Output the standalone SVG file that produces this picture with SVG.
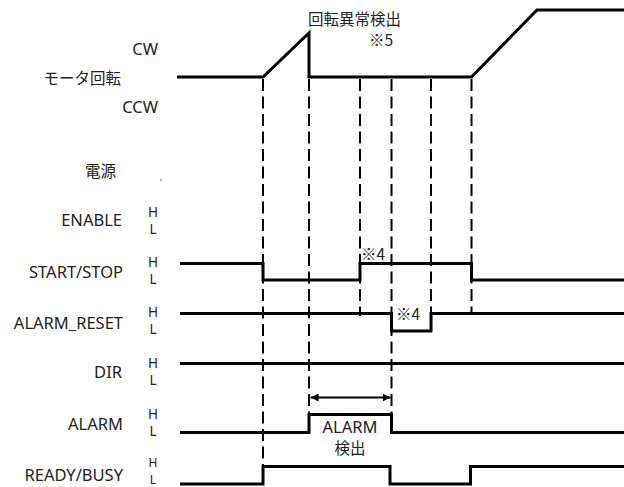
<svg xmlns="http://www.w3.org/2000/svg" width="624" height="487" viewBox="0 0 624 487">
<defs>
<style>
.t{font-family:"Noto Sans","Noto Sans CJK JP",sans-serif;font-size:16.5px;fill:#222}
.j{font-family:"Noto Sans CJK JP","Noto Sans",sans-serif;font-size:15.5px;fill:#222}
.hl{font-family:"Noto Sans","Noto Sans CJK JP",sans-serif;font-size:13.5px;fill:#222;text-anchor:middle}
.hs{font-size:12px}
.r{text-anchor:end}
.m{text-anchor:middle}
.sig{fill:none;stroke:#000;stroke-width:3;stroke-linejoin:miter}
.dash{fill:none;stroke:#000;stroke-width:2;stroke-dasharray:12 5.5}
</style>
<marker id="ah" viewBox="0 0 10 10" refX="10" refY="5" markerWidth="8" markerHeight="8" markerUnits="userSpaceOnUse" orient="auto-start-reverse">
<path d="M0,0 L10,5 L0,10 z" fill="#000"/>
</marker>
</defs>
<rect width="624" height="487" fill="#fff"/>

<g id="motor">
<text class="t r" x="158" y="55">CW</text>
<text class="j r" x="121" y="84">モータ回転</text>
<text class="t r" x="158" y="113">CCW</text>
<text class="j" x="308" y="25">回転異常検出</text>
<text class="j" x="369" y="46">※5</text>
<path class="sig" d="M177,77 H263 L309,33 V77 H471.5 L537,10 H624"/>
</g>

<g id="power">
<text class="j r" x="116" y="177">電源</text>
<circle cx="161" cy="180" r="0.8" fill="#666"/>
</g>

<g id="enable">
<text class="t r" x="122" y="226">ENABLE</text>
<text class="hl" x="153" y="216.5">H</text>
<text class="hl" x="153" y="234">L</text>
</g>

<g id="start-stop">
<text class="t r" x="123" y="278">START/STOP</text>
<text class="hl" x="153" y="266.5">H</text>
<text class="hl" x="153" y="284">L</text>
<text class="j" x="361" y="260">※4</text>
<path class="sig" d="M180,263.5 H263 V280 H360 V263.5 H471.5 V280 H624"/>
</g>

<g id="alarm-reset">
<text class="t r" x="123" y="329">ALARM_RESET</text>
<text class="hl" x="153" y="316.5">H</text>
<text class="hl" x="153" y="334">L</text>
<text class="j" x="396" y="320">※4</text>
<path class="sig" d="M180,313.5 H391.5 V331 H431 V313.5 H624"/>
</g>

<g id="dir">
<text class="t r" x="122" y="378">DIR</text>
<text class="hl" x="153" y="367.5">H</text>
<text class="hl" x="153" y="385">L</text>
<path class="sig" d="M180,363.5 H624"/>
</g>

<g id="alarm">
<text class="t r" x="123" y="430">ALARM</text>
<text class="hl" x="153" y="418.5">H</text>
<text class="hl" x="153" y="436">L</text>
<text class="t m" x="350" y="433">ALARM</text>
<text class="j m" x="350" y="454">検出</text>
<path class="sig" d="M180,432.5 H309 V414.5 H391.5 V432.5 H624"/>
</g>

<g id="ready-busy">
<text class="t r" x="123" y="481">READY/BUSY</text>
<text class="hl hs" x="153" y="467">H</text>
<text class="hl hs" x="153" y="483.5">L</text>
<path class="sig" d="M180,484 H263 V466.5 H390 V484 H470.5 V466.5 H624"/>
</g>

<g id="connectors">
<path class="dash" d="M263,79 V466"/>
<path class="dash" d="M309,79 V414"/>
<path class="dash" d="M360,79 V316"/>
<path class="dash" d="M391.5,79 V414"/>
<path class="dash" d="M431,79 V313"/>
<path class="dash" d="M471.5,79 V312"/>
<line x1="310.5" y1="397.5" x2="390.5" y2="397.5" stroke="#000" stroke-width="2" marker-start="url(#ah)" marker-end="url(#ah)"/>
</g>
</svg>
